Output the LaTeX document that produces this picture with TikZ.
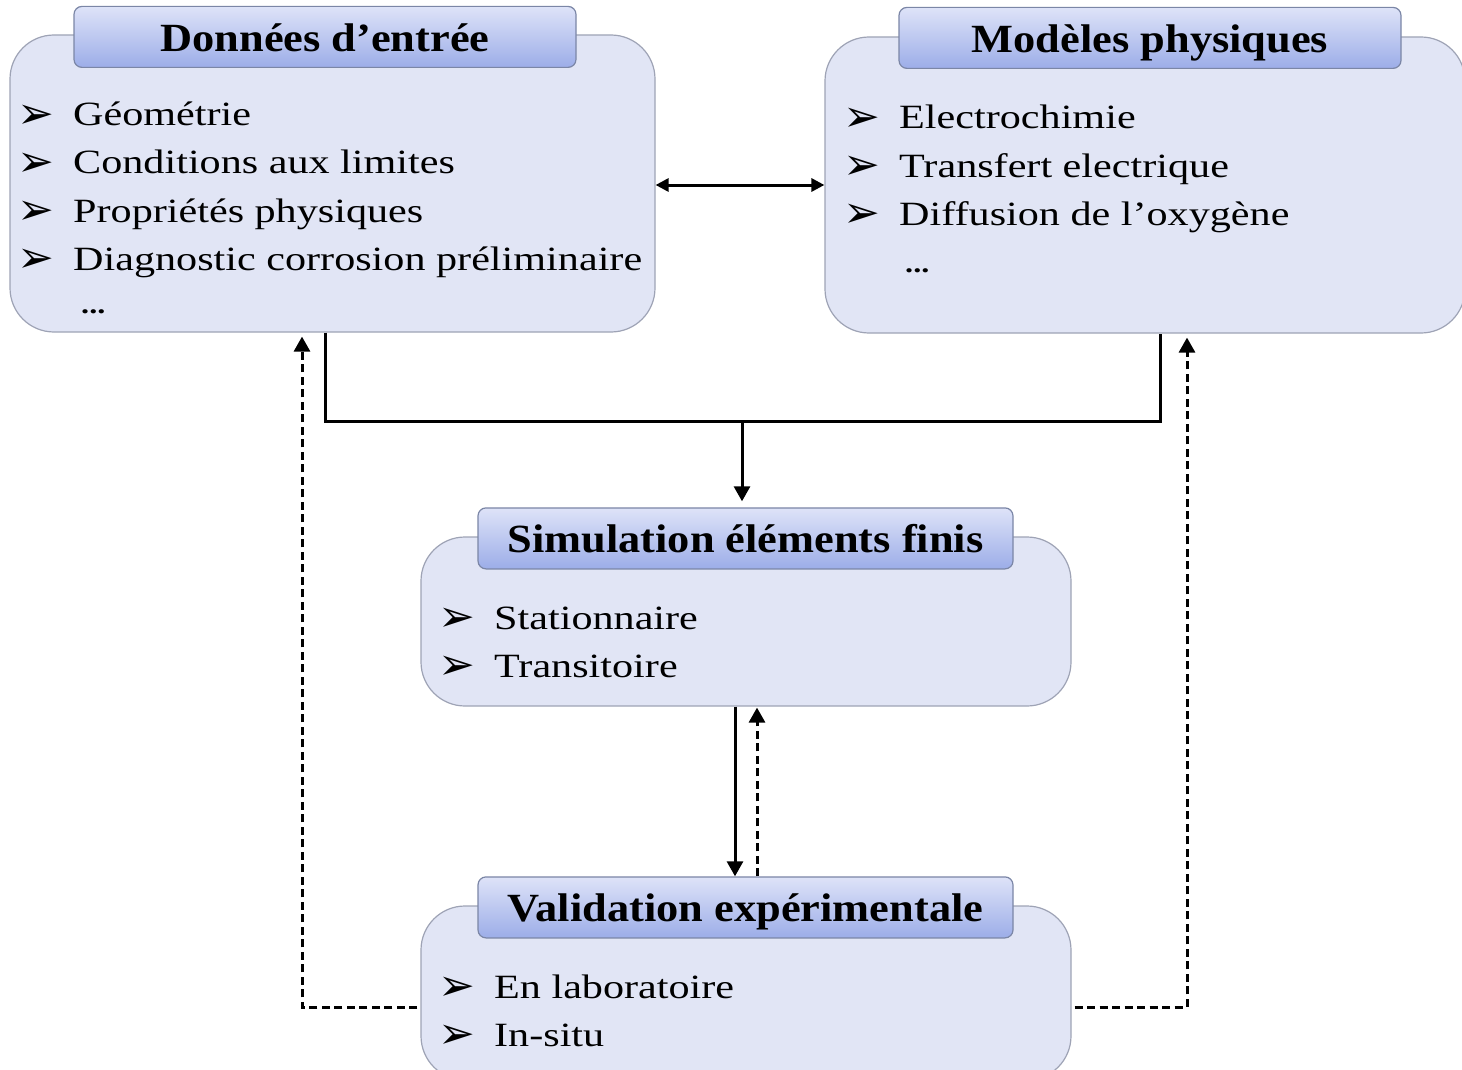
\documentclass[tikz,border=0pt]{standalone}
\usepackage{fontspec}
\setmainfont{Liberation Serif}[FakeStretch=1.24]
\newfontfamily\headfont{Liberation Serif}[FakeStretch=1.11]
\newfontfamily\bulfont{DejaVu Sans}
\usepackage{tikz}
\usetikzlibrary{arrows.meta, positioning, calc}

\definecolor{boxfill}{HTML}{E1E5F5}
\definecolor{boxline}{HTML}{9EA3B5}
\definecolor{tabtop}{HTML}{DEE3F8}
\definecolor{tabbot}{HTML}{9CADE8}
\definecolor{tabline}{HTML}{7B86A6}

\newcommand{\bul}{\makebox[53pt][l]{\raisebox{-2pt}{\hspace{-3pt}\bulfont\fontsize{44}{44}\selectfont ➢}}}

\begin{document}
\begin{tikzpicture} [x = 1pt, y = -1pt,
		box/.style = {draw = boxline, fill = boxfill, line width = 1.2pt, rounded corners = 44pt},
		tab/.style = {draw = tabline, line width = 1.2pt, rounded corners = 8pt, top color = tabtop,
		bottom color = tabbot, minimum height = 61pt, inner sep = 0pt, text height = 38pt, text depth = 9pt,
		font = \headfont\bfseries\fontsize{40}{48}\selectfont},
		item/.style = {anchor = base west, inner sep = 0pt, font = \fontsize{34}{40}\selectfont},
		dots/.style = {anchor = base west, inner sep = 0pt, font = \bfseries\fontsize{26}{30}\selectfont},
		conn/.style = {line width = 3pt},
		arr/.style = {conn, -{Triangle[length = 15pt, width = 16pt]}},
		dsh/.style = {dash pattern = on 8pt off 4.5pt}]
		% Page frame
		\clip (0,0) rectangle (1462,1070);

		% Main boxes
		\node (don) [box, minimum width = 645pt, minimum height = 297pt] at (332.5,183.5) {};
		\node (mod) [box, minimum width = 640pt, minimum height = 296pt] at (1145,185) {};
		\node (sim) [box, minimum width = 650pt, minimum height = 169pt] at (746,621.5) {};
		\node (val) [box, minimum width = 650pt, minimum height = 174pt] at (746,993) {};

		% Title tabs
		\node (tdon) [tab, minimum width = 502pt] at ($(don.north)+(-7.5,2.5)$) {Données d’entrée};
		\node (tmod) [tab, minimum width = 502pt] at ($(mod.north)+(5,1.5)$) {Modèles physiques};
		\node (tsim) [tab, minimum width = 535pt] at ($(sim.north)+(-0.5,2)$) {Simulation éléments finis};
		\node (tval) [tab, minimum width = 535pt] at ($(val.north)+(-0.5,2)$) {Validation expérimentale};

		% Lists
		\foreach \lbl [count = \i] in {Géométrie, Conditions aux limites, Propriétés physiques,
			Diagnostic corrosion préliminaire}
		\node (d\i) [item] at (20,{78+48*\i}) {\bul\lbl};
		\node (d5) [dots] at (81,313) {...};

		\foreach \lbl [count = \i] in {Electrochimie, Transfert electrique, Diffusion de l’oxygène}
		\node (m\i) [item] at (846,{81+48*\i}) {\bul\lbl};
		\node (m4) [dots] at (905,272) {...};

		\foreach \lbl [count = \i] in {Stationnaire, Transitoire}
		\node (s\i) [item] at (441,{581+48*\i}) {\bul\lbl};

		\foreach \lbl [count = \i] in {En laboratoire, In-situ}
		\node (v\i) [item] at (441,{950+48*\i}) {\bul\lbl};

		% Draw Arrows/Connections
		\coordinate (j) at (742,421);
		\draw [conn, {Triangle[length = 13pt, width = 13pt]}-{Triangle[length = 13pt, width = 13pt]}]
		([yshift = -1.5pt]don.east) -- ([yshift = -1.5pt]don.east -| mod.west);
		\draw [conn] ([xshift = -7.5pt]don.south) |- (j) -| ([xshift = 15pt]mod.south);
		\draw [arr, shorten > = 6pt] (j) -- (j |- tsim.north);

		\draw [arr] ([xshift = -11pt]sim.south) -- ([xshift = -11pt]sim.south |- tval.north);
		\draw [arr, dsh, shorten > = 1pt] ([xshift = 11pt]sim.south |- tval.north) -- ([xshift = 11pt]sim.south);

		\draw [arr, dsh, shorten < = 3pt, shorten > = 4pt] ([yshift = -14pt]val.west) -| ([xshift = -30.5pt]don.south);
		\draw [arr, dsh, shorten < = 3pt, shorten > = 4pt] ([yshift = -14pt]val.east) -| ([xshift = 42pt]mod.south);
	\end{tikzpicture}
\end{document}
